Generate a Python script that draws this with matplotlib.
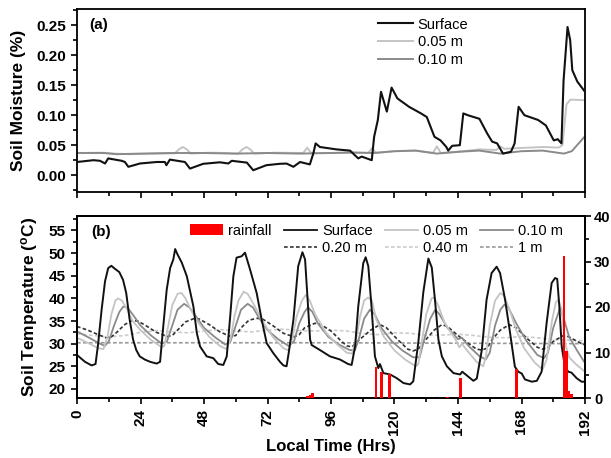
import matplotlib
matplotlib.use('Agg')
import matplotlib.pyplot as plt
from matplotlib.ticker import MultipleLocator
from matplotlib.patches import Patch, Rectangle
from matplotlib.lines import Line2D

plt.rcParams['font.family'] = ['Liberation Sans', 'DejaVu Sans']
plt.rcParams['mathtext.fontset'] = 'custom'
plt.rcParams['mathtext.rm'] = 'Liberation Sans:bold'
plt.rcParams['mathtext.it'] = 'Liberation Sans:bold'
plt.rcParams['mathtext.bf'] = 'Liberation Sans:bold'

# ---------------- (a) soil moisture ----------------
sm_surf_t = [0, 6.2, 8.7, 10.6, 11.8, 16.9, 18.1, 19.4, 23.8, 30.1, 33.2, 33.8, 35.1, 40.8, 42.7,
             47.7, 54, 57.2, 58.5, 64.2, 66.6, 71.6, 76.7, 79.2, 81.8, 84.3, 88, 89.3, 90.2, 91.8,
             98.1, 103.2, 105.1, 106.3, 107.6, 109.5, 111.4, 112.3, 113.7, 114.9, 117.1, 118.9,
             121.1, 125.5, 130, 132.2, 135.1, 137.4, 139.6, 140.3, 141.8, 144.7, 146, 147.7, 152.1,
             155.1, 156.9, 158.8, 161, 164, 165.4, 166.9, 169.1, 174.3, 177.2, 180.2, 181.7, 183.1,
             183.9, 185.4, 186.4, 187.2, 189.1, 192]
sm_surf = [0.022, 0.025, 0.024, 0.0195, 0.028, 0.024, 0.022, 0.014, 0.0195, 0.022, 0.022, 0.0167,
           0.026, 0.022, 0.011, 0.019, 0.0215, 0.0195, 0.024, 0.021, 0.0083, 0.0167, 0.019, 0.0194,
           0.014, 0.022, 0.018, 0.036, 0.053, 0.047, 0.043, 0.041, 0.033, 0.028, 0.031, 0.028,
           0.025, 0.064, 0.092, 0.139, 0.106, 0.146, 0.128, 0.114, 0.103, 0.097, 0.064, 0.058,
           0.047, 0.041, 0.049, 0.050, 0.103, 0.100, 0.094, 0.069, 0.056, 0.053, 0.036, 0.039,
           0.053, 0.114, 0.100, 0.092, 0.083, 0.058, 0.060, 0.053, 0.158, 0.247, 0.225, 0.175,
           0.156, 0.139]

sm_005_t = [0, 10, 14, 20, 30, 37, 38.5, 40, 41.5, 43, 50, 56, 61, 62.5, 64, 65.5, 67, 75, 85.5,
            87, 88.5, 96, 104, 110, 111.5, 113, 120, 128, 134.5, 136, 137.5, 144, 152, 158.5, 160,
            161.5, 166, 176, 182, 183.5, 185, 186.5, 192]
sm_005 = [0.037, 0.0375, 0.036, 0.035, 0.036, 0.0365, 0.043, 0.047, 0.043, 0.036, 0.0375, 0.037,
          0.036, 0.043, 0.047, 0.043, 0.036, 0.0375, 0.037, 0.046, 0.037, 0.037, 0.037, 0.037,
          0.045, 0.037, 0.040, 0.041, 0.037, 0.048, 0.037, 0.039, 0.043, 0.042, 0.048, 0.044,
          0.045, 0.047, 0.046, 0.050, 0.118, 0.126, 0.125]

sm_010_t = [0, 10, 15, 24, 36, 48, 60, 72, 84, 96, 104, 112, 120, 128, 136, 144, 152, 160, 168,
            176, 184, 187, 190, 192]
sm_010 = [0.037, 0.037, 0.035, 0.036, 0.037, 0.037, 0.036, 0.037, 0.036, 0.037, 0.038, 0.037,
          0.040, 0.041, 0.036, 0.039, 0.041, 0.036, 0.040, 0.041, 0.036, 0.040, 0.055, 0.065]

# ---------------- (b) soil temperature ----------------
ts_surf_t = [0, 3, 5.5, 7, 8, 9.3, 10.6, 11.8, 13, 14.2, 16, 17.4, 18.6, 19.9, 21.2, 22.4, 23.7,
             25.6, 27.6, 30.1, 31.4, 32.6, 33.9, 35.2, 36.4, 37.1, 38, 39.6, 41.5, 44, 45.3, 46.5,
             49, 51.5, 53.4, 55.3, 56.6, 57.8, 59.1, 60.3, 62.2, 63.5, 65.4, 67.9, 69.8, 71.7,
             74.2, 76.7, 78, 79.2, 80, 81.8, 83.6, 85.2, 86.2, 87.4, 88.1, 88.7, 91.8, 95.6, 99.4,
             102.5, 103.8, 105.1, 106.3, 108.2, 109.1, 110.1, 111.4, 112.6, 113.9, 114.5, 115.8,
             118.3, 120.8, 123.4, 125.9, 127.1, 129, 130.9, 132.8, 134.1, 135.4, 136.6, 137.9,
             139.8, 142.3, 144.8, 145.6, 147.3, 149.8, 151.1, 153, 154.8, 156.7, 158.6, 159.9,
             161.8, 163.7, 165.5, 166.8, 168.1, 169.3, 171.9, 173.8, 175.6, 177.5, 179.4, 180.7,
             181.5, 182.3, 183.2, 184.4, 185.7, 186.9, 188.8, 190.7, 192]
ts_surf = [27.5, 26.0, 25.2, 25.5, 30.0, 37.5, 43.8, 46.7, 47.2, 46.6, 45.8, 44.1, 41.2, 35.3,
           30.9, 28.6, 27.2, 26.5, 26.0, 25.6, 26.0, 33.8, 41.9, 46.7, 48.6, 50.9, 49.7, 47.9,
           44.9, 38.2, 32.3, 29.4, 27.2, 26.8, 25.5, 25.3, 27.2, 35.3, 44.9, 49.0, 49.3, 50.1,
           46.4, 41.2, 35.3, 30.1, 27.9, 26.0, 25.2, 25.0, 27.9, 35.3, 47.1, 50.2, 48.6, 37.5,
           30.9, 29.7, 28.6, 27.2, 26.5, 25.5, 25.3, 29.4, 38.2, 47.8, 49.1, 47.1, 37.5, 27.2,
           24.6, 25.5, 23.5, 23.2, 22.4, 21.3, 21.0, 21.7, 30.3, 41.4, 48.8, 46.8, 39.0, 30.9,
           27.2, 25.0, 23.5, 23.2, 23.8, 23.0, 21.8, 22.3, 28.6, 39.7, 45.6, 47.0, 45.6, 39.7,
           32.3, 24.9, 23.8, 23.4, 22.1, 21.6, 21.8, 23.8, 34.6, 43.4, 44.5, 44.3, 38.2, 29.4,
           24.9, 23.8, 23.6, 22.4, 21.6, 21.6]

ts_005_t = [0, 4, 8, 10, 11.5, 13, 14.5, 15.5, 17, 19, 21, 24, 28, 32, 33, 34.5, 36, 38, 39.5, 41,
            43, 46, 50, 54, 56.5, 58, 59.5, 61, 63, 64.5, 67, 70, 74, 78, 80, 81.5, 83, 85, 86.5,
            88, 90, 94, 98, 102, 104, 105.5, 107, 108.5, 110, 111.5, 113, 116, 120, 124, 128, 129,
            130.5, 132, 134, 135, 136.5, 139, 143, 144.5, 145.5, 147, 151, 153.5, 154.5, 156, 158,
            160, 161.5, 163.5, 166, 169, 173, 176, 177.5, 179.5, 181, 182, 183.2, 184.5, 186,
            188.5, 192]
ts_005 = [31.3, 30.2, 29.0, 28.8, 31.5, 36.5, 39.5, 40.0, 39.5, 37.5, 35.0, 33.0, 30.8, 29.2,
          29.5, 34.0, 38.5, 41.0, 41.2, 40.0, 37.5, 34.5, 31.5, 29.5, 28.8, 31.0, 36.0, 39.5,
          41.5, 41.0, 38.5, 35.0, 31.5, 29.0, 28.5, 31.5, 36.0, 39.5, 40.8, 39.5, 36.5, 32.5,
          30.0, 28.0, 27.8, 31.0, 36.0, 39.5, 40.2, 39.5, 35.5, 31.5, 28.5, 26.5, 25.0, 25.5,
          31.0, 36.5, 40.0, 40.2, 38.5, 34.5, 31.0, 29.2, 30.0, 28.8, 26.0, 25.0, 27.0, 34.0,
          39.5, 41.2, 40.5, 37.5, 33.0, 29.0, 25.8, 24.3, 26.5, 35.0, 39.2, 39.7, 37.5, 30.0,
          27.0, 25.5, 23.8]

ts_010_t = [0, 4, 8, 10.5, 12, 14, 16, 17.5, 19, 21, 24, 28, 32, 34, 36, 38, 40.5, 42.5, 45, 48,
            52, 56, 58, 60, 62, 64.5, 66.5, 69, 72, 76, 80, 82, 84, 86, 87.3, 89, 91, 95, 99, 103,
            105, 106.5, 108.5, 110.7, 112.5, 115, 119, 123, 127, 129.5, 131.5, 133.5, 135.4, 137,
            140, 144, 145.5, 148, 152, 154.5, 156, 158, 160, 161.5, 163, 166, 170, 174, 176.5,
            178, 180, 182.6, 184, 186, 189, 192]
ts_010 = [32.7, 31.5, 30.2, 29.5, 30.5, 34.0, 37.0, 38.2, 38.0, 36.5, 34.0, 31.8, 30.0, 30.5,
          34.0, 37.5, 38.8, 38.0, 36.0, 33.5, 31.5, 29.8, 30.5, 34.0, 37.5, 38.8, 38.0, 35.5,
          33.0, 31.0, 29.5, 30.5, 34.5, 37.0, 38.0, 37.0, 34.5, 31.5, 29.8, 28.6, 28.5, 31.0,
          35.5, 37.5, 36.5, 33.5, 30.5, 28.5, 27.0, 27.0, 31.5, 35.5, 37.5, 36.5, 33.5, 31.0,
          31.3, 29.5, 27.3, 26.5, 28.0, 34.0, 37.5, 38.6, 38.0, 34.5, 30.5, 27.5, 26.8, 28.0,
          33.5, 37.9, 35.5, 31.5, 28.5, 25.7]

ts_020_t = [0, 4, 8, 11, 13, 15, 18, 20.7, 23, 26, 30, 34, 36, 38, 41, 44, 46, 50, 54, 58, 60,
            62, 65, 68, 70, 74, 78, 82, 84, 86, 89.9, 92, 96, 100, 102, 104, 106, 108, 111, 114.5,
            117, 121, 125, 127, 129, 132, 135, 137.9, 140, 144, 148, 151, 153, 155, 157, 160,
            163.4, 166, 170, 174, 176, 178, 180, 183.8, 186, 189, 192]
ts_020 = [33.8, 33.0, 32.0, 31.3, 31.5, 32.5, 34.2, 35.1, 35.0, 34.0, 32.5, 31.6, 31.8, 33.0,
          34.8, 35.5, 35.5, 34.2, 32.6, 31.6, 31.8, 33.5, 35.2, 35.6, 35.5, 34.0, 32.3, 31.5,
          32.0, 33.5, 34.5, 34.3, 32.8, 30.5, 29.5, 29.3, 30.5, 31.5, 33.0, 34.2, 33.5, 31.0,
          28.8, 28.4, 28.8, 31.0, 33.0, 34.2, 33.8, 31.8, 30.0, 28.8, 28.6, 29.0, 31.0, 33.0,
          34.2, 33.5, 31.2, 29.2, 28.8, 29.2, 30.5, 31.8, 31.5, 30.5, 29.7]

ts_040_t = [0, 6, 12, 18, 24, 30, 36, 42, 48, 54, 60, 66, 72, 78, 84, 90, 96, 102, 108, 114, 120,
            126, 132, 138, 144, 150, 156, 162, 168, 174, 180, 186, 192]
ts_040 = [32.2, 31.8, 31.5, 31.8, 32.5, 32.9, 32.6, 32.4, 32.8, 33.1, 32.8, 32.6, 33.0, 33.2,
          32.9, 32.8, 33.0, 32.8, 32.2, 32.0, 32.4, 32.3, 31.8, 31.9, 32.1, 31.8, 31.4, 31.3,
          31.6, 31.3, 30.9, 30.8, 30.6]

ts_1m_t = [0, 48, 96, 144, 192]
ts_1m = [30.2, 30.2, 30.2, 30.1, 30.0]

rain_t = [87, 88, 89, 113, 115, 118, 140, 145, 166, 184, 185, 186, 187]
rain_mm = [0.4, 0.6, 1.0, 6.9, 5.7, 5.3, 0.3, 4.3, 6.3, 31.2, 10.3, 1.5, 0.8]

x_ticks = list(range(0, 193, 24))

# ---------------- figure ----------------
W, H = 611, 458
fig = plt.figure(figsize=(W / 100, H / 100), dpi=100)
ax_a = fig.add_axes([77 / W, 1 - 192 / H, 508 / W, 183 / H])
ax_b = fig.add_axes([77 / W, 1 - 398 / H, 508 / W, 182 / H])

BLACK = '#111111'
LIGHT = '#c4c4c4'
MID = '#8a8a8a'
TICKFONT = dict(fontsize=11, fontweight='bold')


def style_axis(ax):
    for s in ax.spines.values():
        s.set_linewidth(1.3)
    ax.tick_params(which='both', direction='out', width=1.2, top=False)
    ax.tick_params(which='major', length=4.5)
    ax.tick_params(which='minor', length=2.8)


# (a)
ax_a.plot(sm_surf_t, sm_surf, color=BLACK, lw=1.5, label='Surface', zorder=3)
ax_a.plot(sm_005_t, sm_005, color=LIGHT, lw=1.4, label='0.05 m', zorder=2)
ax_a.plot(sm_010_t, sm_010, color=MID, lw=1.4, label='0.10 m', zorder=2)
ax_a.set_xlim(0, 192)
ax_a.set_ylim(-0.028, 0.277)
ax_a.set_xticks(x_ticks)
ax_a.xaxis.set_minor_locator(MultipleLocator(12))
ax_a.set_xticklabels([])
ax_a.set_yticks([0.0, 0.05, 0.10, 0.15, 0.20, 0.25])
ax_a.set_yticklabels(['0.00', '0.05', '0.10', '0.15', '0.20', '0.25'], **TICKFONT)
ax_a.yaxis.set_minor_locator(MultipleLocator(0.025))
style_axis(ax_a)
ax_a.tick_params(right=False)
ax_a.set_ylabel('Soil Moisture (%)', fontsize=12.5, fontweight='bold')
ax_a.yaxis.set_label_coords(-0.100, 0.5)
ax_a.text(0.024, 0.915, '(a)', transform=ax_a.transAxes, fontsize=11, fontweight='bold',
          va='center', ha='left')
ax_a.legend(loc='upper left', bbox_to_anchor=(0.593, 0.953), frameon=False, fontsize=10.5,
            handlelength=2.4, handletextpad=0.3, labelspacing=0.26, borderpad=0,
            borderaxespad=0)

# (b)
ax_b.plot(ts_1m_t, ts_1m, color='#999999', lw=1.2, ls=(0, (2.2, 1.4)), zorder=2)
ax_b.plot(ts_040_t, ts_040, color='#cccccc', lw=1.2, ls=(0, (2.2, 1.4)), zorder=2)
ax_b.plot(ts_020_t, ts_020, color='#333333', lw=1.2, ls=(0, (2.2, 1.4)), zorder=3)
ax_b.plot(ts_010_t, ts_010, color=MID, lw=1.3, zorder=3)
ax_b.plot(ts_005_t, ts_005, color=LIGHT, lw=1.3, zorder=3)
ax_b.plot(ts_surf_t, ts_surf, color=BLACK, lw=1.4, zorder=4)
ax_b.set_xlim(0, 192)
ax_b.set_ylim(18, 58.2)
ax_b.set_xticks(x_ticks)
ax_b.set_xticklabels([str(v) for v in x_ticks], rotation=90, **TICKFONT)
ax_b.xaxis.set_minor_locator(MultipleLocator(12))
ax_b.set_yticks(range(20, 56, 5))
ax_b.set_yticklabels([str(v) for v in range(20, 56, 5)], **TICKFONT)
ax_b.yaxis.set_minor_locator(MultipleLocator(2.5))
style_axis(ax_b)
ax_b.set_ylabel('Soil Temperature ($^{\\mathrm{o}}$C)', fontsize=12.5, fontweight='bold')
ax_b.yaxis.set_label_coords(-0.073, 0.5)
ax_b.set_xlabel('Local Time (Hrs)', fontsize=12, fontweight='bold')
ax_b.xaxis.set_label_coords(0.5, -0.224)
ax_b.text(0.029, 0.912, '(b)', transform=ax_b.transAxes, fontsize=11, fontweight='bold',
          va='center', ha='left')

ax_r = ax_b.twinx()
ax_r.bar(rain_t, rain_mm, width=1.0, color='#ff0000', edgecolor='none', zorder=5)
ax_r.set_ylim(0, 40)
ax_r.set_xlim(0, 192)
ax_r.set_yticks(range(0, 41, 10))
ax_r.set_yticklabels([str(v) for v in range(0, 41, 10)], fontsize=10.5, fontweight='bold')
ax_r.yaxis.set_minor_locator(MultipleLocator(5))
for s in ax_r.spines.values():
    s.set_linewidth(1.3)
ax_r.tick_params(which='both', direction='out', width=1.2, pad=2)
ax_r.tick_params(which='major', length=4.5)
ax_r.tick_params(which='minor', length=2.8)

h_rain = Patch(facecolor='#ff0000', edgecolor='none', label='rainfall')
h_blank = Rectangle((0, 0), 1, 1, fill=False, edgecolor='none', visible=False, label=' ')
h_surf = Line2D([], [], color=BLACK, lw=1.3, label='Surface')
h_005 = Line2D([], [], color=LIGHT, lw=1.3, label='0.05 m')
h_010 = Line2D([], [], color=MID, lw=1.3, label='0.10 m')
h_020 = Line2D([], [], color='#333333', lw=1.2, ls=(0, (2.2, 1.4)), label='0.20 m')
h_040 = Line2D([], [], color='#cccccc', lw=1.2, ls=(0, (2.2, 1.4)), label='0.40 m')
h_1m = Line2D([], [], color='#999999', lw=1.2, ls=(0, (2.2, 1.4)), label='1 m')
handles = [h_rain, h_blank, h_surf, h_020, h_005, h_040, h_010, h_1m]
ax_r.legend(handles=handles, labels=[h.get_label() for h in handles], ncol=4,
            loc='upper left', bbox_to_anchor=(0.222, 0.958), frameon=False, fontsize=10.5,
            handlelength=2.3, handletextpad=0.35, columnspacing=0.8, labelspacing=0.25,
            borderpad=0, borderaxespad=0)

fig.savefig('out.png', dpi=100)
